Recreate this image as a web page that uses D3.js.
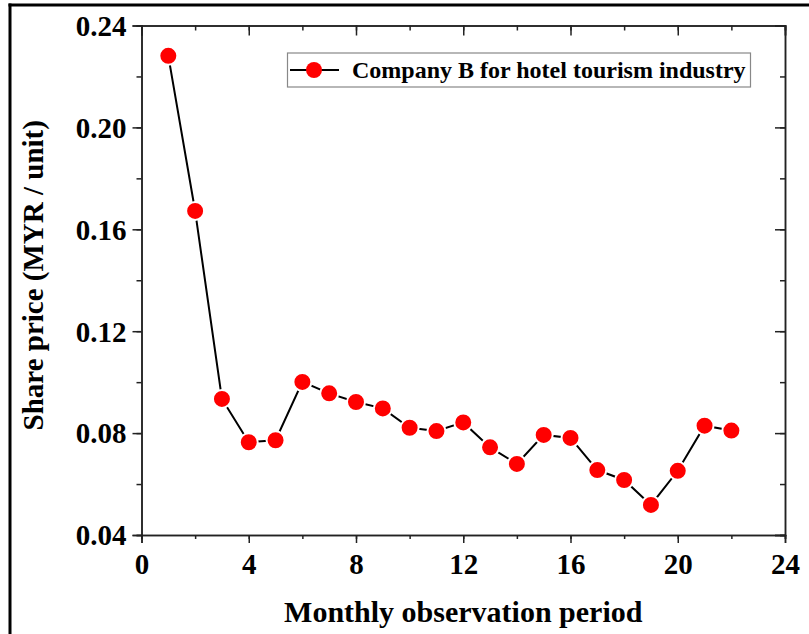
<!DOCTYPE html>
<html>
<head>
<meta charset="utf-8">
<script src="https://cdn.jsdelivr.net/npm/d3@7"></script>
<style>
  body { margin: 0; background: #fff; }
  svg text { font-family: "Liberation Serif", "Times New Roman", serif; font-weight: bold; }
</style>
</head>
<body>
<div id="chart"></div>
<script>
// data
var months = [1, 2, 3, 4, 5, 6, 7, 8, 9, 10, 11, 12, 13, 14, 15, 16, 17, 18, 19, 20, 21, 22]
var prices = [0.2281, 0.1672, 0.0934, 0.0764, 0.0772, 0.1001, 0.0956, 0.0922, 0.0897, 0.0821, 0.0808,
              0.0842, 0.0744, 0.0679, 0.0793, 0.0781, 0.0655, 0.0616, 0.0518, 0.0652, 0.0829, 0.0810]
var xTicks = [0, 4, 8, 12, 16, 20, 24]
var yTicks = [0.04, 0.08, 0.12, 0.16, 0.20, 0.24]
var seriesName = "Company B for hotel tourism industry"

var width = 809, height = 634
var margin = {top: 25.5, right: 24, bottom: 99, left: 141.5}
var innerW = width - margin.left - margin.right
var innerH = height - margin.top - margin.bottom

var svg = d3.select("#chart").append("svg")
  .attr("width", width)
  .attr("height", height)

// frame lines on top and left of the figure
svg.append("line").attr("x1", 8.5).attr("x2", width).attr("y1", 5).attr("y2", 5)
  .attr("stroke", "#000").attr("stroke-width", 3)
svg.append("line").attr("x1", 10).attr("x2", 10).attr("y1", 3.5).attr("y2", height)
  .attr("stroke", "#000").attr("stroke-width", 3)

var g = svg.append("g").attr("transform", "translate(" + margin.left + "," + margin.top + ")")

var x = d3.scaleLinear().domain([0, 24]).range([0, innerW])
var y = d3.scaleLinear().domain([0.04, 0.24]).range([innerH, 0])

var xMinor = d3.range(0, 24.01, 2)
var yMinor = d3.range(0.04, 0.2401, 0.02)

// minor ticks first (outward on bottom/left, inward on top/right)
g.append("g").attr("transform", "translate(0," + innerH + ")")
  .call(d3.axisBottom(x).tickValues(xMinor).tickSize(4).tickFormat(""))
g.append("g")
  .call(d3.axisLeft(y).tickValues(yMinor).tickSize(5).tickFormat(""))
g.append("g")
  .call(d3.axisTop(x).tickValues(xMinor).tickSize(-5).tickFormat(""))
g.append("g").attr("transform", "translate(" + innerW + ",0)")
  .call(d3.axisRight(y).tickValues(yMinor).tickSize(-5).tickFormat(""))

// major ticks
var xAxis = g.append("g").attr("transform", "translate(0," + innerH + ")")
  .call(d3.axisBottom(x).tickValues(xTicks).tickSize(8).tickPadding(10).tickFormat(d3.format("d")))
var yAxis = g.append("g")
  .call(d3.axisLeft(y).tickValues(yTicks).tickSize(9).tickPadding(6).tickFormat(d3.format(".2f")))
g.append("g")
  .call(d3.axisTop(x).tickValues(xTicks).tickSize(-10).tickFormat(""))
g.append("g").attr("transform", "translate(" + innerW + ",0)")
  .call(d3.axisRight(y).tickValues(yTicks).tickSize(-10).tickFormat(""))

g.selectAll(".domain").attr("stroke", "#222").attr("stroke-width", 1.5)
g.selectAll(".tick line").attr("stroke", "#222").attr("stroke-width", 1.5)
g.selectAll(".tick text").attr("fill", "#000").style("font-size", "29px")
yAxis.selectAll(".tick text").attr("dy", "0.34em")

// line + markers
var line = d3.line().x(function(d, i) { return x(months[i]) }).y(function(d) { return y(d) })
g.append("path").datum(prices)
  .attr("d", line)
  .attr("fill", "none")
  .attr("stroke", "#000")
  .attr("stroke-width", 2)

g.selectAll(".pt").data(prices).enter().append("circle")
  .attr("class", "pt")
  .attr("cx", function(d, i) { return x(months[i]) })
  .attr("cy", function(d) { return y(d) })
  .attr("r", 9)
  .attr("fill", "#ff0000")
  .attr("stroke", "#fff")
  .attr("stroke-width", 2)

// axis titles
svg.append("text")
  .attr("x", margin.left + innerW / 2)
  .attr("y", 622)
  .attr("text-anchor", "middle")
  .style("font-size", "30px")
  .text("Monthly observation period")

svg.append("text")
  .attr("transform", "translate(43," + (margin.top + innerH / 2 - 5) + ") rotate(-90)")
  .attr("text-anchor", "middle")
  .style("font-size", "29px")
  .text("Share price (MYR / unit)")

// legend
var leg = svg.append("g")
leg.append("rect").attr("x", 287.5).attr("y", 53).attr("width", 463).attr("height", 34)
  .attr("fill", "#fff").attr("stroke", "#888").attr("stroke-width", 1.2)
leg.append("line").attr("x1", 290).attr("x2", 339).attr("y1", 70).attr("y2", 70)
  .attr("stroke", "#000").attr("stroke-width", 2)
leg.append("circle").attr("cx", 314).attr("cy", 70).attr("r", 8).attr("fill", "#ff0000")
leg.append("text").attr("x", 352).attr("y", 78)
  .style("font-size", "24px")
  .text(seriesName)
</script>
</body>
</html>
